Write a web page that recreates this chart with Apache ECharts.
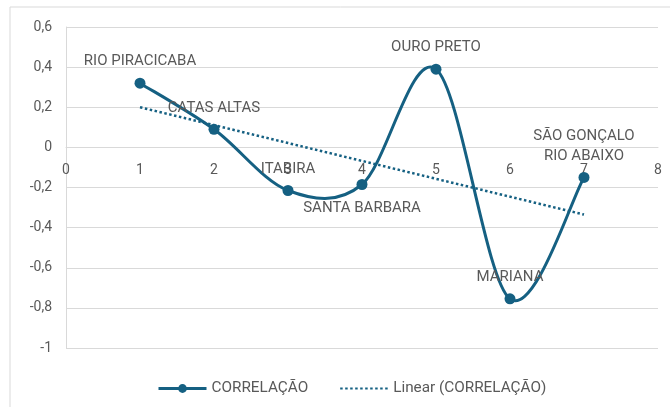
<!DOCTYPE html>
<html>
<head>
<meta charset="utf-8">
<script src="https://cdn.jsdelivr.net/npm/echarts@6/dist/echarts.min.js"></script>
<style>
  html, body { margin: 0; padding: 0; background: #fff; }
  #chart { width: 670px; height: 407px; }
</style>
</head>
<body>
<div id="chart"></div>
<script>
// dados
const xValues = [1, 2, 3, 4, 5, 6, 7]
const correlacao = [0.32, 0.09, -0.215, -0.185, 0.39, -0.755, -0.15]
const municipios = ['RIO PIRACICABA', 'CATAS ALTAS', 'ITABIRA', 'SANTA BARBARA', 'OURO PRETO', 'MARIANA', 'SÃO GONÇALO\nRIO ABAIXO']
const labelBelow = [false, false, false, true, false, false, false]
// linha de tendência (extremos)
const trendX = [1, 7]
const trendY = [0.2, -0.335]

const FONT = "'Liberation Sans Narrow', 'Roboto', sans-serif"
const MAIN = '#156082'
const GRAY_TXT = '#595959'
const GRID_COLOR = '#d9d9d9'

const chart = echarts.init(document.getElementById('chart'))

// curva suavizada tipo Excel (catmull-rom em pixels)
const renderSpline = (params, api) => {
  const i = params.dataIndex
  if (i >= xValues.length - 1) return null
  const pt = (k) => {
    const j = Math.max(0, Math.min(xValues.length - 1, k))
    return api.coord([xValues[j], correlacao[j]])
  }
  const p0 = pt(i - 1), p1 = pt(i), p2 = pt(i + 1), p3 = pt(i + 2)
  return {
    type: 'bezierCurve',
    shape: {
      x1: p1[0], y1: p1[1],
      x2: p2[0], y2: p2[1],
      cpx1: p1[0] + (p2[0] - p0[0]) / 6,
      cpy1: p1[1] + (p2[1] - p0[1]) / 6,
      cpx2: p2[0] - (p3[0] - p1[0]) / 6,
      cpy2: p2[1] - (p3[1] - p1[1]) / 6
    },
    style: { fill: null, stroke: MAIN, lineWidth: 3 },
    silent: true
  }
}

const option = {
  backgroundColor: '#fff',
  animation: false,
  textStyle: { fontFamily: FONT },
  graphic: [
    {
      type: 'rect',
      shape: { x: 10, y: 7, width: 700, height: 450 },
      style: { fill: 'none', stroke: GRID_COLOR, lineWidth: 1 },
      silent: true
    }
  ],
  grid: { left: 66, right: 12, top: 27, bottom: 59 },
  legend: {
    top: 376,
    left: 152,
    itemWidth: 48,
    itemHeight: 11,
    itemGap: 31,
    textStyle: { color: GRAY_TXT, fontSize: 15.3, fontFamily: FONT },
    data: [
      { name: 'CORRELAÇÃO', lineStyle: { color: MAIN, width: 3, opacity: 1 } },
      { name: 'Linear (CORRELAÇÃO)', itemStyle: { opacity: 0 } }
    ]
  },
  xAxis: {
    type: 'value',
    min: 0,
    max: 8,
    interval: 1,
    // eixo x cruzando o zero do eixo y
    offset: -201,
    axisLine: { onZero: false, lineStyle: { color: GRID_COLOR, width: 1 } },
    axisTick: { show: false },
    splitLine: { show: false },
    axisLabel: { color: GRAY_TXT, fontSize: 14, margin: 16, fontFamily: FONT }
  },
  yAxis: {
    type: 'value',
    min: -1,
    max: 0.6,
    interval: 0.2,
    axisLine: { show: true, onZero: false, lineStyle: { color: GRID_COLOR, width: 1 } },
    axisTick: { show: false },
    splitLine: { show: true, lineStyle: { color: GRID_COLOR, width: 1 } },
    axisLabel: {
      color: GRAY_TXT,
      fontSize: 14,
      margin: 14,
      fontFamily: FONT,
      formatter: (v) => String(Math.round(v * 10) / 10).replace('.', ',')
    }
  },
  series: [
    {
      name: 'curva',
      type: 'custom',
      renderItem: renderSpline,
      z: 2,
      data: xValues.map((x, i) => [x, correlacao[i]])
    },
    {
      name: 'CORRELAÇÃO',
      type: 'line',
      symbol: 'circle',
      symbolSize: 11,
      z: 3,
      lineStyle: { color: MAIN, width: 3, opacity: 0 },
      itemStyle: { color: MAIN },
      data: xValues.map((x, i) => ({
        value: [x, correlacao[i]],
        label: {
          show: true,
          position: labelBelow[i] ? 'bottom' : 'top',
          distance: labelBelow[i] ? 8 : 6,
          formatter: municipios[i],
          color: GRAY_TXT,
          fontSize: 15,
          lineHeight: 20,
          fontFamily: FONT
        }
      }))
    },
    {
      name: 'Linear (CORRELAÇÃO)',
      type: 'line',
      symbol: 'none',
      z: 2,
      lineStyle: { color: MAIN, width: 2.5, type: [2.5, 2.5] },
      itemStyle: { color: MAIN },
      data: trendX.map((x, i) => [x, trendY[i]])
    }
  ]
}

chart.setOption(option)
</script>
</body>
</html>
